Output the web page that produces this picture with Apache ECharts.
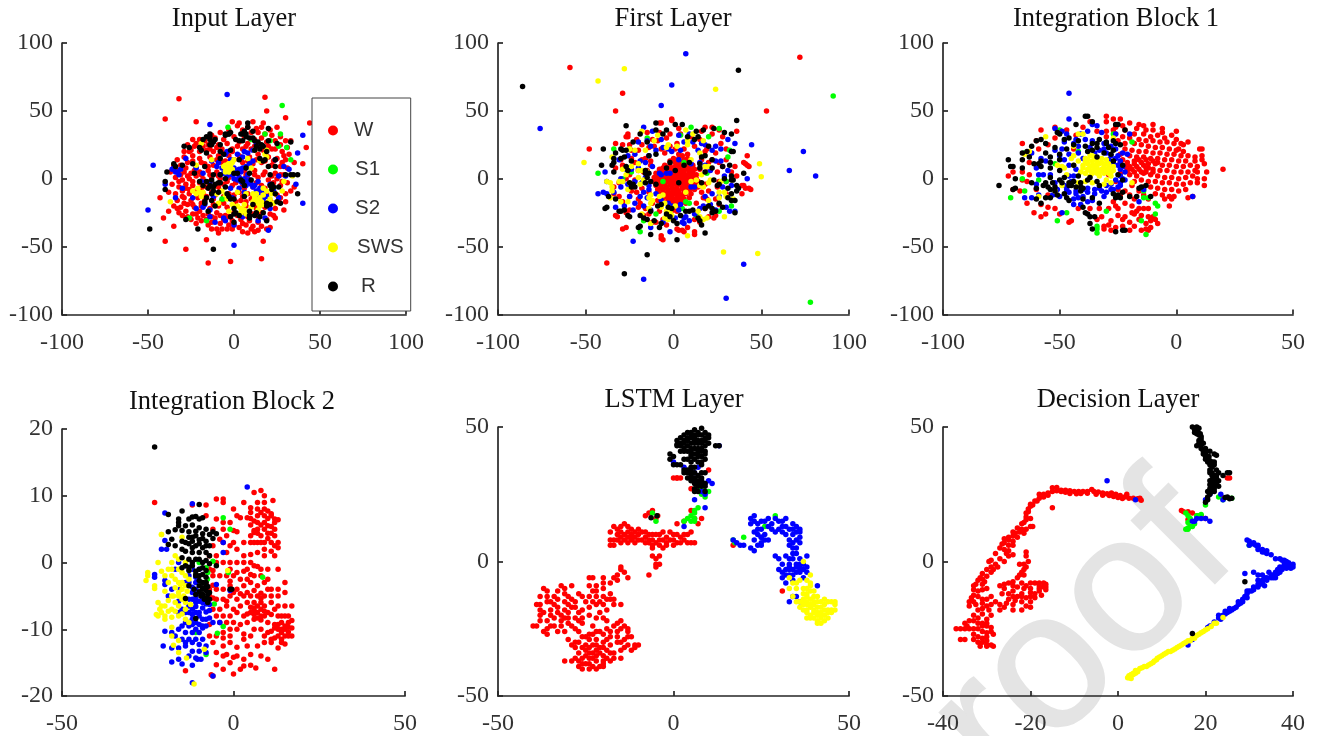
<!DOCTYPE html>
<html><head><meta charset="utf-8"><style>html,body{margin:0;padding:0;background:#fff}#c{width:1317px;height:736px}</style>
<script src="https://cdn.jsdelivr.net/npm/echarts@6/dist/echarts.min.js"></script></head><body><div id="c"></div>
<script>
// Flat x,y lists
const classNames=['W','S1','S2','SWS','R'];
const classColors=['#ff0000','#00ff00','#0000ff','#ffff00','#000000'];
const titles=['Input Layer','First Layer','Integration Block 1','Integration Block 2','LSTM Layer','Decision Layer'];

const input_W=[-32,59,18,60,19,50,30,45,-40,44,-22,42,42,23,40,11,-43,-14,-41,-29,-35,-35,-40,-46,-28,-52,-16,-45,-15,-62,-2,-61,16,-59,17,-46,44,41,
-1,42,3,41,11,42,17,41,2,39,8,38,13,37,16,38,21,36,25,38,-8,34,-3,36,5,36,10,34,14,34,18,33,22,32,27,31,-13,32,-20,29,-24,29,-17,28,-11,30,-6,29,0,31,6,31,12,29,16,30,24,28,30,28,33,28,
-27,25,-23,24,-15,25,-9,25,-4,26,3,27,8,26,15,25,19,27,27,25,31,23,-29,20,-25,21,-20,20,-16,21,-12,20,-7,22,-1,22,5,22,10,22,17,21,22,22,28,20,32,18,
-33,14,-29,16,-24,17,-20,15,-14,16,-9,17,-3,17,3,17,9,16,14,18,20,16,25,15,30,14,35,12,-35,10,-31,10,-27,12,-22,9,-17,11,-12,10,-7,12,-2,11,5,12,11,11,16,12,22,10,27,9,31,8,
-37,5,-33,6,-29,5,-25,4,-20,5,-15,6,-10,5,-5,6,0,7,6,6,12,6,18,5,24,4,29,3,-34,1,-30,-1,-26,0,-22,2,-18,0,-13,1,-8,0,-3,1,3,1,8,0,14,1,20,-1,25,0,31,-3,35,-6,
-36,-4,-32,-6,-28,-4,-24,-5,-20,-3,-16,-6,-11,-5,-6,-4,-1,-5,5,-4,11,-6,16,-5,22,-6,27,-5,33,-9,30,-11,-38,-10,-34,-11,-30,-9,-26,-11,-22,-9,-18,-11,-13,-10,-8,-9,-3,-11,3,-10,8,-11,14,-10,19,-11,25,-12,
-33,-16,-29,-14,-25,-16,-21,-14,-17,-16,-12,-15,-7,-16,-2,-14,4,-16,10,-15,15,-17,21,-16,26,-17,30,-17,-35,-20,-31,-21,-27,-19,-23,-21,-19,-20,-14,-22,-9,-20,-4,-21,1,-20,7,-20,13,-22,18,-21,24,-22,29,-23,
-38,-24,-32,-25,-28,-24,-24,-26,-20,-24,-15,-26,-10,-25,-5,-27,0,-25,5,-27,11,-26,16,-25,23,-27,-25,-30,-21,-29,-16,-30,-11,-29,-6,-30,-1,-31,4,-30,9,-31,14,-32,19,-30,24,-29,
-22,-33,-15,-34,-10,-37,-13,-37,-7,-37,-4,-37,-1,-37,3,-36,7,-34,8,-40,12,-39,16,-35,19,-37,
-26,20,-22,26,-18,24,-14,22,-10,23,-5,19,-1,20,2,24,7,24,12,24,16,23,20,24,24,22,29,17,-28,8,-24,13,-19,12,-15,9,-10,14,-5,13,0,14,4,15,8,13,13,14,18,13,23,13,28,12,-31,3,-27,2,-23,6,-19,3,-14,3,-9,2,-4,4,2,4,7,3,12,3,17,3,22,2,27,3,-32,-2,-28,-7,-24,-2,-19,-7,-14,-2,-9,-6,-4,-2,1,-3,6,-7,13,-3,18,-7,23,-3,28,-2,-30,-13,-26,-8,-21,-12,-16,-13,-11,-12,-6,-13,0,-12,5,-13,11,-13,17,-13,23,-9,27,-14,-33,-22,-29,-18,-24,-19,-19,-18,-12,-19,-6,-18,1,-17,7,-17,12,-19,18,-18,23,-18,-30,-27,-27,-28,-22,-26,-18,-27,-13,-28,-8,-27,-3,-28,2,-27,8,-28,14,-28,21,-26,-19,-31,-13,-32,-3,-34,5,-33,11,-35,-8,-33,0,-34,10,-37,14,-38,21,-36,-9,-40,5,-39];
const input_S1=[28,54,-3.5,38,18,33,27,33,30.6,23,26,24,33,14,-16,-31,-26,-29,-6.5,-15,21,28,10,29,-7,-15,23,-7];
const input_S2=[-4,62,-47,10,-50,-23,0,-49,40,-18,40,32,37,19,36,-4,-14,40,20,-38,-40,-4,-34,-14,-36,7,-31,7,-28,15,-33,5,-30,-7,-24,-14,-22,-22,-22,8,-18,-21,-14,-28,-11,-32,-6,-29,-5,-31,0,-34,5,-28,14,-31,18,-29,21,-22,26,-14,30,2,26,2,32,7,29,9,14,-2,11,-6,9,-3,8,3,7,-5,6,0,3,1,4,5,1,4,0,8,-2,-7,3,-7,6,-10,13,-9,15,-7,14,-12,17,-10,-7,8,-9,12,-14,-3,-4,2,-12,-13,-5,18,6,20,13,26,-4,20,11,21,-1,-14,-2,14,21,-4,24,14,-17,-19,-14,-23,
-35,8,-34,5,-32,3,-8,3,-6,4,0,0,2,-1,4,-2,5,-3,7,-2,9,-1,10,-4,12,-5,-1,3,1,6,3,7,5,8,7,9,9,11,11,13,2,18,5,16,8,19,-13,13,-10,9,-18,4,-19,-2,23,-9,19,-13,17,-15,16,-18,14,-9];
const input_SWS=[-37,-17,-21,-7,-20,-10,-18,-10,-22,10,-19,26,-13,14,-12,-6,-10,-11,-9,-18,-7,-9,-6,9,-4,8,-3,11,-4,10,-2,10,-1,7,0,14,2,-10,6,-19,-3,-24,-1,-19,4,-25,7,-11,8,15,10,8,11,-11,12,-13,13,-16,14,-18,15,-14,16,-17,14,-23,17,-12,19,-9,21,-15,23,-18,18,18,19,16,19,21,12,21,15,13,24,-11,28,-9,29,-2,34,2,2,-20,
-24,-9,-22,-11,-19,-13,-5,-12,-4,-15,-3,11,-5,8,-2,7,-3,5,-5,5,12,-15,13,-11,15,-20,17,-19,11,-17,10,-21,6,-23,7,-26,4,-22,-5,10,-3,6,-1,12,17,-7,20,-17,22,-11];
const input_R=[-49,-37,-12,-52,-21,-37,-28,-30,-39,5,-40,-2,-40,-8,-29,24,-26,23,-20,23,8,41,20,37,33,27,37,-11,37,3,34.5,3,33,3,30,3,-35,11,-34,9,-30,10,-24,11,-17,9,-14,29,-14,33,-16,31,-18,29,-19,21,-16,19,-14,25,-11,29,-8,20,-8,25,-5,33,-3,33,1,29,4,33,5,28,8,38,7,31,11,30,12,21,12,28,13,24,15,15,17,24,18,14,20,28,24,9,24,14,25,26,26,-6,27,-18,-9,-3,-12,-6,-9,-10,-13,-11,-15,-7,-18,-5,-17,-18,-15,-24,-13,-16,-11,-20,-8,-3,-8,3,-5,-6,-4,-11,-3,-13,-2,-28,0,-32,0,-22,3,-27,2,4,4,-1,6,-5,7,8,9,4,6,-13,9,-24,9,-27,11,-19,13,-25,15,-28,19,-20,19,-31,21,-5,23,-6,-12,3,-13,-1,-16,-2,-20,-2,-5,0,0,4,3,14,5,-2,10,-1,-11,-4,-23,4,
-5,32,-3,33,-2,34,-14,31,-13,25,-12,27,-8,15,-6,18,-2,21,3,28,5,33,6,35,7,33,9,30,11,35,14,27,16,25,15,22,19,20,17,13,20,9,21,3,22,-4,22,-8,24,-11,25,-17,21,-19,19,-18,17,-25,12,-27,9,-29,0,-26,1,-25,-2,-15,0,-15,-12,-9,-14,-5,-16,-14,-17,-17];

const first_W=[3,18,5,17,0,15,3,15,6,14,8,15,-2,13,1,12,4,12,7,12,9,12,-5,10,-2,10,1,9,3,10,6,9,9,9,11,10,-8,7,-5,7,-2,6,1,7,4,6,7,7,10,6,12,7,-10,4,-7,4,-4,3,-1,4,2,3,5,4,8,3,11,4,13,3,-11,1,-8,1,-5,0,-2,1,1,0,4,1,7,0,10,1,13,0,-12,-2,-9,-2,-6,-3,-3,-2,0,-3,3,-2,6,-3,9,-2,12,-3,14,-2,-10,-5,-7,-5,-4,-6,-1,-5,2,-6,5,-5,8,-6,11,-5,14,-6,-9,-8,-6,-8,-3,-9,0,-8,3,-9,6,-8,9,-9,12,-8,-8,-11,-5,-11,-2,-12,1,-11,4,-12,7,-11,10,-11,-6,-14,-3,-14,0,-15,3,-14,6,-15,9,-14,-4,-17,-1,-17,2,-18,5,-17,7,-18,-2,-20,1,-20,4,-21,0,-23,2,-24,
-6,8,-3,8,0,8,2,8,5,8,8,8,-8,5,-6,5,-3,5,0,5,3,5,6,5,9,5,-9,2,-6,2,-3,2,0,2,3,2,6,2,9,2,12,2,-10,-1,-7,-1,-4,-1,-1,-1,2,-1,5,-1,8,-1,11,-1,-8,-4,-5,-4,-2,-4,1,-4,4,-4,7,-4,10,-4,13,-4,-7,-7,-4,-7,-1,-7,2,-8,5,-7,8,-7,11,-7,-6,-10,-3,-10,0,-10,3,-11,6,-10,-4,-13,-1,-13,2,-13,5,-13,-2,-16,1,-16,4,-16,
-38,-62,-59,82,-29,63,-33,50,72,89.5,53,50,-48,22,-8,41,-7,41,-1,43,-1,44,3,37,18,38,22,38,26,36,-26,31,-27,31,-12,29,-9,28,-4,30,2,26,15,29,19,22,27,26,30,22,36,35,-33,26,-29,25,-25,25,-20,21,-14,23,-7,22,-2,24,6,22,-30,14,-24,15,-18,14,-13,13,16,14,22,14,28,9,35,9,42,17,40,12,41,11,42,10,43,9,-33,8,-29,8,-25,3,-20,6,-17,5,19,5,25,5,33,5,36,2,-34,-6,-31,-3,-22,-1,-18,-7,18,-4,25,-6,30,-2,39,-5,40,-5,41,-7,43,-7,44,-8,39,-11,-34,-11,-31,-13,-25,-13,-20,-15,17,-14,24,-15,30,-11,-33,-27,-32,-28,-25,-23,-20,-21,-16,-22,-8,-24,-3,-26,13,-25,18,-22,24,-27,23,-29,-29,-37,-27,-36,-12,-32,-6,-30,12,-30,2,-37,3,-38,5,-38,6,-39,12,-39,12,-41,-7,-42,-7,-44,-6,-45,-14,-26,
-26,33,-21,29,-15,34,-8,34,-2,33,4,33,10,31,16,35,22,33,28,31,-24,21,-18,25,-11,24,-5,19,1,22,8,18,12,24,18,20,24,19,-29,10,-22,12,-16,15,-13,10,15,7,20,12,26,12,30,14,-27,0,-21,-10,-15,6,-14,-10,16,-10,20,-9,26,-2,-29,-17,-24,-9,-19,-18,-12,-18,-9,-16,13,-18,19,-15,26,-19,-27,-25,-17,-27,-10,-32,-4,-34,8,-36,15,-32,20,-28];
const first_S1=[91,61,-43,4,78,-91,10,38,26,37,20,31,4,32,-15,30,-34,22,-25,22,-26,8,-29,0,-6,-2,-24,5,32,21,31,16,-19,-39,-17,-31,-10,-26,7,-17,9,-18,26,-24,13,-27,30,-2,33,-20,5,-22,19,4,6,12];
const first_S2=[-76,37,7,92,-1,69,-7,54,44.5,25,74,20,66,6,81,2,40,-63,30,-88,-17,-74,-23,-46,-17,38,-15,28,-13,24,-10,21,-6,23,-3,22,-1,20,4,21,6,27,9,33,16,26,22,21,24,24,31,29,35,26,-31,14,-26,17,-24,7,-27,7,-30,0,-29,-2,-38,-2,-39,5,-43,-11,-40,-10,-38,-11,-34,-10,-30,-6,-22,-2,-18,-3,-16,12,-14,17,-12,9,-8,4,-7,3,-4,4,-2,4,3,14,10,11,15,12,24,13,27,13,31,6,33,-5,42,0,-33,-21,-28,-20,-22,-18,-23,-23,-17,-10,-14,-8,-15,-14,-10,-11,-3,-18,4,-19,3,-23,7,-28,6,-33,6,-29,12,-26,17,-20,21,-19,24,-23,26,-13,30,-21,32,-24,35,-24,-2,-39,-6,-32,-13,-36,5,-32,10,-6,12,-6,
-20,27,-12,35,-7,29,3,32,11,27,18,25,27,22,-22,18,-19,13,-20,8,-16,1,-14,-5,-26,-4,-25,-13,-19,-13,-17,-20,-13,-23,-7,-16,-1,-20,1,-29,9,-31,15,-22,18,-13,22,-11,28,-6,29,2,21,6,18,10,14,21];
const first_SWS=[-28,81,-43,72,24,66,49,11,50,1.5,-51,12,28.5,-54,48,-55,8,-42,-18,35,-9,32,-3,25,7,36,8,28,11,33,15,19,17,28,-35,16,-22,21,-29,-2,-20,11,-18,6,-20,1,-38,-2,-36,-3,-35,-6,-35,-9,-31,-2,-19,-4,-25,-3,-26,-8,-17,-1,-26,-17,-36,-14,-30,-17,-14,-14,-13,-18,-7,-21,-2,-25,-1,-27,-5,-29,-3,-30,-13,-33,-18,-26,-14,-22,-13,-12,-4,-24,-8,-13,1,-20,7,-10,-6,-12,13,-1,15,-5,17,-6,18,9,20,9,21,-1,27,-2,29,-10,30,-13,34,-15,19,-29,29,-28,-20,6,16,3,10,-2,20,-3,15,-28,14,
-24,-2,-22,-7,-20,-5,-18,-12,-16,-16,-3,-27,3,-29,7,-24,9,-25,22,-4,23,2,24,8,25,-11,28,-16,21,10,14,-15,5,26,-10,26,-14,20,-16,17,-30,5];
const first_R=[-86,68,37,80,36,43,-38,-21,-40,22,-41,10,-33,19,-27,39,-19,33,-10,41,-10,36,-4,36,1,40,5,40,17,36,23,37,29,34,33,33,33,20,34,20,20,24,12,29,14,31,-27,21,-29,21,-30,22,-34,15,-34,12,-35,10,-34,5,-30,15,-24,13,-23,27,-27,9,-26,6,-23,-4,-22,-6,-24,-6,-16,6,-16,4,-15,1,-14,4,-13,-2,-10,-4,-10,18,-4,8,1,6,3,-3,6,10,9,12,15,8,15,11,16,16,18,17,22,14,23,-1,25,-5,28,9,32,10,33,2,33,-1,34,-1,37,-7,40,4,33,-11,35,-16,35,-25,31,-14,28,-21,-30,-24,-28,-23,-26,-27,-19,-27,-19,-35,-20,-36,-15,-30,-13,-24,-11,-31,-8,-36,-4,-26,-9,-20,-7,-19,-2,-28,-3,-21,-1,-22,2,-33,4,-27,7,-24,9,-24,11,-23,14,-29,16,-34,18,-22,18,-40,22,-25,24,-24,33,-16,36,-9,2,-45,-15,-56,-28,-70,-13,-41,
-39,-22,-37,-13,-33,-15,-31,-24,-25,-28,-17,-29,-7,-33,0,-31,15,-31,20,-20,22,-22,26,-18,31,-7,36,-5,26,-4,29,0,16,-3,18,5,22,8,-2,12,8,31,13,35,-6,33,-15,27,-14,17,-28,16,-25,-3,-16,-3];

const block1_W=[20,7,-30,46,-27,44,-24,44,-16,40,-14,39,-10,40,-6,37,0,35,-30,42,-23,39,-20,41,-17,37,-13,36,-10,36,-6,34,-2,32,2,26,5,27,3,25,-27,36,-22,36,-18,33,-14,33,-11,31,-8,32,-5,30,0,29,1,22,-20,30,-16,29,-13,28,-10,28,-7,27,-4,27,-1,26,-25,28,-22,26,-18,26,-15,25,-12,24,-9,23,-6,23,-3,22,0,21,3,20,-22,22,-19,21,-16,20,-13,20,-10,19,-7,19,-4,18,-1,18,2,17,5,17,10,22,11,22,-20,17,-17,16,-14,16,-11,15,-8,15,-5,14,-2,14,1,13,4,13,8,16,8,13,11,17,11,14,-24,12,-21,12,-18,11,-15,12,-12,11,-9,11,-6,10,-3,10,0,9,3,9,6,10,9,9,12,11,-19,7,-16,7,-13,8,-10,7,-7,6,-4,6,-1,5,2,5,5,5,8,6,9,5,13,5,-20,3,-17,2,-14,4,-11,3,-8,2,-5,1,-2,1,1,0,4,1,7,2,9,0,12,0,-18,-2,-15,-1,-12,-2,-9,-2,-6,-3,-3,-3,0,-4,3,-4,6,-3,9,-3,12,-5,-14,-6,-11,-6,-8,-7,-5,-8,-2,-8,1,-9,4,-8,-9,-11,-6,-12,-3,-13,-1,-13,5,-14,7,-13,-2,-15,-5,-15,-3,-20,-20,-12,-18,-15,-22,-9,-24,-12,-22,-18,-19,-20,-16,-22,-12,-22,-10,-28,-26,-20,-29,-22,-25,-27,-22,-28,-18,-26,-15,-27,-12,-28,-9,-30,-8,-33,-20,-32,-16,-30,-13,-33,-11,-36,-31,-37,-28,-38,-26,-36,-23,-35,-15,-38,-13,-37,-12,-38,-34,-30,-32,-28,-29,-34,-31,-35,-61,-25,-58,-28,-56,-26,-50,-26,-46,-32,-45,-31,-52,-22,-55,-21,-58,-19,-64,-18,-67,-9,-72,2,-70,-8,-60,-8,-66,-1,-63,3,-66,5,-70,5,-66,26,-60,28,-58,36,-52,38,-55,25,-47,36,-43,32,-40,38,-37,42,-34,35,-30,35,-26,38,
-24,18,-23,14,-22,9,-24,4,-25,-8,-27,-17,-25,-22,-28,-31,-23,-30,-19,-25,-17,-24,-14,-22,-11,-31,-18,-35,-20,-38,-33,-22,-37,-22,-42,-22,-55,-12,-64,-2,-63,12,-59,22,-52,30,-44,22,-30,31,-26,33,-23,31,-29,3,-26,-2,-19,-5,-16,-9,-14,-12,-12,-15,
-20,9,-17,9,-14,10,-12,8,-18,5,-15,5,-13,5,-10,5,-16,14,-13,14,-10,13,-8,12,-18,13,-21,6];
const block1_S1=[-65,19,-66,0,-65,-9,-71,-14,-59,-1,-51,-31,-47,-25,-34,-35,-34,-37,-34,-40,-30,-24,-14,-14,-12,-14,-9,-18,-8,-20,-9,-26,-15,-31,-13,-41,-19,27,-27,33,-50,36,-42,20,-52,11,-14,-9];
const block1_S2=[-46,63,-46,44,-52,37,-49,35,-41,33,-38,35,-36,40,-34,39,-32,34,-26,33,-20,33,-39,29,-36,28,-31,26,-28,24,-26,22,-23,19,-21,18,-48,27,-44,26,-42,24,-49,22,-50,17,-46,18,-42,19,-40,15,-37,23,-33,21,-30,19,-28,17,-26,15,-25,10,-24,7,-22,5,-24,2,-22,-1,-24,-3,-25,-6,-28,-4,-30,-5,-32,-9,-35,-11,-38,-10,-40,-13,-42,-14,-43,-11,-46,-10,-47,-8,-51,-8,-52,-3,-48,-5,-45,-2,-58,15,-62,19,-60,8,-59,3,-54,3,-60,-4,-62,-14,-59,-12,-65,-14,-49,-25,-41,-19,-38,-17,-31,-13,-25,-13,-16,-17,-14,-8,7,-13,-44,-19,-57,3,-56,13,-43,7,-46,2,-30,-10,-27,-8,-36,-16,
-47,33,-43,29,-35,19,-31,22,-29,14,-27,12,-25,17,-24,13,-23,9,-23,0,-26,-1,-24,-5,-28,-8,-33,-7,-38,-7,-43,-9,-44,-15,-40,-8,-35,-8,-50,-13,-53,-12,-52,21,-48,14,-46,10,-44,2];
const block1_SWS=[-56,31,-51,10,-49,9,-48,8,-47,3,-49,-5,-45,15,-44,10,-44,17,-42,13,-41,5,-42,-3,-40,8,-39,13,-39,15,-38,11,-37,9,-37,17,-37,6,-36,13,-36,4,-35,16,-35,10,-34,8,-34,14,-33,11,-33,5,-33,2,-32,7,-32,12,-31,9,-31,4,-30,11,-30,6,-29,8,-28,5,-28,2,-27,9,-28,-3,-31,-4,-36,-3,-39,-2,-41,-6,-30,-1,-44,24,-42,33,-40,33,-63,20,-65,18,-59,-13,-27,30,-19,-3,-52,-9,
-40,10,-38,14,-38,7,-36,10,-36,17,-35,7,-34,4,-34,11,-32,15,-30,14,-29,11,-29,4,-27,6,-37,2,-39,4];
const block1_R=[-76,-5,-72,14,-71,9,-70,9,-70,-8,-69,-7,-69,0,-66,14,-66,19,-64,20,-62,24,-60,28,-58,29,-66,8,-62,-3,-60,-7,-60,-15,-56,-14,-58,-18,-54,-14,-59,11,-58,9,-58,13,-56,-3,-54,16,-54,12,-54,8,-54,1,-56,19,-56,26,-54,-8,-52,-6,-52,-9,-51,-12,-50,18,-50,14,-50,6,-50,-1,-49,-3,-48,-11,-47,-14,-46,-16,-46,-3,-44,25,-44,10,-43,-6,-42,2,-41,-3,-40,-15,-40,-7,-40,-21,-39,-25,-38,-26,-37,-28,-37,-33,-36,-37,-35,-28,-38,20,-36,21,-34,26,-34,16,-33,29,-31,19,-30,27,-29,23,-27,21,-27,13,-26,26,-25,40,-26,40,-22,36,-39,46,-38,46,-36,42,-43,40,-51,34,-50,33,-46,30,-47,22,-37,1,-34,-2,-33,-5,-27,-11,-26,-14,-24,-14,-25,-12,-23,-10,-20,-13,-17,-13,-13,-5,-16,-7,-15,-6,-11,-13,-26,-39,-23,-38,-22,-38,-45,-5,-41,-9,-23,-1,-25,3,-23,10,
-55,-6,-53,-3,-57,-5,-48,1,-46,-5,-44,-2,-41,-6,-38,-1,-36,-14,-33,-18,-52,23,-48,29,-42,28,-39,24,-36,26,-34,23,-30,26,-24,25,-27,28,-28,18,-63,16,-61,11];

const block2_W=[-23,9,-12,8.6,-8,8.6,-5,9.5,-3,9.5,-3,9,0,8,3,9,8,10.8,9,10,6,10.5,7,9,9,9,11.5,9.3,5,8.2,7,8,9,8,11,7.3,5,7.5,7,7,9,7,11,7,12,6.5,13,6.4,5,6.6,7,6,9,6,10,5.5,12,6,5,5.6,7,5,9,5,11,5.4,12,5,6,4.5,8,4,10,4.4,12,4,5,4,7,3,9,3,11,3,13,3,6,3,9,2,13,2.2,7,1.5,11,1.7,5,1.2,9,1,12,1,-8,7,-5,6.5,-3,6,-1,6,1,7,2,6.7,4,6.7,-6,5,-3,5,0,4.8,1,4.6,3,3,5,3,-3,3,0,3,-6,2.5,-7,1,-5,1,-2,1.5,1,2,3,1,-7,-1,-5,0,-3,0,-1,0,1,0,3,0,5,0,-1,-1,1,-1.5,4,-1,6,-0.5,8,-1,10,-1,13,-1,-8,-3,-6,-2,-4,-2,-2,-2,0,-2,2,-2.5,4,-2.5,6,-2,8,-2,10,-2.5,-7,-4,-5,-4,-3,-4,-1,-3.5,1,-4,3,-3.5,5,-3,7,-3.5,9,-3,11,-4,13,-4,15,-3,-7,-5,-5,-5.5,-3,-5.5,-1,-5,1,-5.5,3,-5,5,-5,7,-5,9,-5,11,-5,13,-5,15,-4.5,-6,-7,-4,-7,-2,-6.5,0,-7,2,-6.5,4,-6,6,-6,7,-6.5,9,-6.5,11,-6,13,-6.5,15,-6.5,17,-6.5,-5,-8,-3,-8,-1,-8,1,-7.5,3,-8,5,-7.5,6,-7.2,7,-7.5,8,-7,9,-8,11,-7.8,13,-8,15,-8,17,-8.7,-4,-9,-2,-9,0,-9,2,-9.3,4,-9,6,-8.5,8,-8.6,10,-9,12,-9.3,14,-9,16,-9,17,-9.8,-7,-9.3,-3,-10.5,-1,-10,1,-10,3,-10.7,6,-10,8,-10,10,-10.5,11,-10.3,13,-10,14,-10.5,15,-10,16,-10.4,-7,-11,-5,-11,-3,-11.3,-1,-11,3,-11.5,5,-11,9,-11,11,-11.5,12,-11.3,14,-11.5,16,-11,-6,-12,-3,-12.5,-1,-12,1,-12.7,4,-12.5,7,-12.5,9,-12,11,-12,13,-12.8,15,-12.2,-5,-13.5,-3,-14,-2,-13.8,0,-14.2,1,-14,3,-14.5,5,-13.8,8,-14,10,-14.5,-5,-15.3,-3,-16,-1,-15,0,-16.7,2,-16,3,-15.5,5,-15.4,6.5,-15.8,12,-16,-14,-16.2,-6.5,-16.8,-6,-17,
6,6.2,8,5.6,10,6.6,8,7.5,10,7.7,6,4.8,8,3,10,3.6,12,2.5,7,4.4,11,4.4,8,-6,6,-7.8,7,-8.3,8,-8,5,-6.7,4,-7.7,6,-6.8,8,-5.4,9,-7.3,10,-7.5,12,-7,14,-10,15,-11,13,-11,14,-8,16,-8,12,-9.8,13,-9.3,15,-9.5,16,-9.7,17,-11,14,-12,-2,-5.8,0,-4.5,2,-4.7,4,-4.5,6,-4.2,8,-4.6,10,-4,-1,-2.8,3,-1.3,5,-1.8,7,-0.6,-6,-5.3,-6,-3.4,-6,-1.2,-4,3.5,-2,4,-1,2.5];
const block2_S1=[-3,6.7,-1,5,-6,0.2,-8,-0.8,-7.6,-2.5,-5.6,-6.2,-3,-9.6,-4.7,-10.6,-11,-10.5,-8,-13.8,8.5,-2.2,-10,0,-7.5,-1.5,-1.5,-1.5];
const block2_S2=[4,11.3,-12,8.8,-20,7.4,-21,2,-19.5,2,-20,3.3,-23,-1.8,-23,-2.2,-20,-2.7,-20,-3.3,-18,-4,-19,-5,-16,-5.8,-16,-7.5,-14,-9,-13,-7.5,-15,-7,-15.5,-4,-17,-1,-20,-10.3,-18,-10.5,-15,-9.5,-13,-9.5,-12,-10.5,-10,-10.5,-8,-9.5,-6,-9,-4,-9,-17,-11,-15,-11.5,-13,-11.5,-11,-11.5,-9,-11.5,-8,-12.5,-20.5,-12.5,-18,-12.8,-16,-12.8,-14,-12.5,-12,-13.3,-10,-13.3,-8,-13.5,-16,-14.5,-18,-14.9,-15,-15.2,-12,-15.4,-10.5,-14.5,-9.5,-14.5,-6,-17,-12,-18,-11,-10,-10,-9.3,-12,-8.5,-8,-8.5,-10,-7.5,-12,-7,-14,-7.5,-8,-7.4,-9,-6.8,-11,-6,-13,-5.5,-7,-6.3,-9,-5.3,-10,-4.7,-12,-4.5,-13,-3,-11,-3,-10,-1,-12,-1,-14,-0.5,-16,0,-3,3,-3,1.5,-1,-4.2,-5,-3.3,-13,-2,-9,-8.5,-11,-7.5,
-13,-9,-11,-9,-9,-9.5,-7,-8.3,-10,-8,-12,-7.8,-13,-6.5,-11,-6.6,-9,-6,-8,-6.2,-7,-7.2,-12,-5.5,-11,-5.3,-10,-5.8,-12,-3.7,-11,-4,-14,-3,-13,-1,-11,-2.2,-9,-9.8,-12,-9.3,-14,-10.5,-10,-12.3,-12,-12,-13,-14,-11,-14.3,-16,-10,-14,-12];
const block2_SWS=[-21,4.2,-15,3.8,-17,1,-18,0,-16,0.5,-14,0,-13,-1,-22,0,-25,-1.5,-25,-2,-25.5,-2.7,-23,-3.5,-23,-3.9,-21,-1.3,-19,-1,-18,-2,-17,-2.5,-15,-1.5,-19,-3,-17,-3.8,-15,-3,-14,-2,-13,-2.5,-20,-4.3,-17.5,-5,-16,-4.5,-15,-4,-13.5,-4.3,-15,-5.5,-17,-6,-14,-6,-22,-6,-21,-6.5,-19,-5.7,-17,-7.3,-14,-7,-12.5,-6.3,-21,-7.5,-22.5,-7.8,-22,-8,-20,-8,-18,-8.2,-16,-8,-14,-8.5,-20,-8.5,-13,-9,-18,-9.7,-18,-11,-16,-11.7,-17.5,-12.4,-16,-13.5,-13.7,-14.3,-8.5,-13,-1.7,-1.2,-11.5,-18.2,-21,4.2,
-16,-1,-18,-1,-20,-2,-16,-3,-14,-3.5,-16,-5,-18,-5,-16,-6.5,-15,-7.7,-18,-7,-20,-6.5,-21.5,-7,-19,-7.3,-15.5,-3.3,-14.5,-5];
const block2_R=[-23,17.3,-19,7.2,-15,7.7,-10,8.7,-16,6.5,-16,6,-13,6.5,-12,6.8,-11,6.9,-10,6.5,-9,6.7,-16,5.5,-14,5.5,-12,5.6,-10,5.2,-8,5,-6,4.6,-19,4.6,-17,4.9,-15,4.8,-13,4.6,-11,4.7,-9,4.3,-7,4.2,-5,4.3,-18,3.5,-19,2.7,-15,3.2,-13,3.8,-12,3.8,-10,3.4,-8,3.2,-6,3.6,-15,2,-13,2.8,-11,2.5,-9,2.2,-7,2.5,-17,2.5,-14,1.7,-12,1.5,-10,1.5,-8,1.5,-7,1,-15,0.7,-13,0.5,-11,0.5,-9,0,-7,-0.2,-14,-0.5,-13,-0.7,-12,-0.5,-10,-1,-8,-1.2,-5,-0.5,-15,-0.8,-13,-1.2,-11,-1.8,-9,-1.8,-11,-2,-10,-2.7,-9,-3,-8,-3,-7.5,-3.6,-13,-3.5,-11.5,-4,-10,-3.5,-9,-4,-8,-4.2,-7,-4.5,-11,-4.8,-9,-4.8,-8,-5.3,-7,-5.5,-14,-5.4,-7.5,-6,-1,-4,-0.5,-4,-11,-8.4,
-12,2.2,-10,2.8,-8,2.5,-12,0,-10,0.5,-8,0.3,-11,-1.3,-9,-0.8,-10,-2,-8,-2.2,-9,-3.8,-8,-3.6,-10,-4.4,-8.5,-5.5,-7.5,-4.8,-9.5,-5,-12,3.2,-9,3.6,-14,3,-11,4];

const lstm_W=[-39,-24,-40,-24,-38,-13,-37,-10,-36,-11,-38,-16,-39,-16,-36,-15,-34,-13,-33,-11,-32,-9,-31,-10,-29,-9,-37,-19,-38,-20,-35,-18,-33,-17,-31,-15,-29,-14,-27,-12,-26,-13,-25,-15,-28,-17,-38,-22,-36,-22,-34,-21,-32,-20,-30,-19,-28,-21,-26,-18,-24,-17,-23,-15,-36,-25,-34,-24,-32,-24,-30,-23,-28,-25,-26,-23,-37,-26,-36,-27,-33,-26,-31,-26,-35,-20,-33,-14,-31,-18,-29,-24,-27,-26,-30,-13,-28,-15,-26,-21,-24,-20,-38,-18,-36,-13,-34,-16,-32,-22,-30,-21,-27,-19,
-30,-29,-29,-31,-28,-30,-28,-32,-26,-28,-27,-34,-25,-31,-25,-33,-24,-27,-23,-24,-24,-29,-23,-31,-23,-34,-22,-29,-22,-26,-21,-32,-21,-34,-20,-27,-20,-30,-19,-25,-19,-33,-18,-28,-18,-31,-17,-34,-16,-26,-16,-30,-15,-33,-14,-32,-14,-29,-13,-25,-13,-31,-12,-28,-12,-33,-11,-31,-11,-32,-10,-31,-14,-24,-29,-37,-31,-37,-28,-36,-27,-37,-26,-36,-25,-38,-24,-36,-23,-39,-22,-37,-21,-39,-20,-38,-19,-36,-18,-37,-17,-36,-15,-36,-26,-40,-24,-40,-22,-40,-20,-39,-27,-39,-20,-35,-18,-34,-24,-38,-25,-35,-23,-36,
-24,-6,-23,-6,-20,-6,-17,-6,-16,-5,-15,-3,-15,-2,-14,-4,-13,-6,-16,-7,-18,-8,-20,-8,-22,-9,-20,-10,-22,-11,-24,-9,-24,-13,-22,-13,-20,-13,-18,-12,-18,-14,-20,-16,-22,-16,-19,-18,-21,-19,-19,-14,-17,-14,-17,-16,-15,-16,-20,-21,-22,-21,-15,-22,-15,-25,-13,-26,-16,-23,
-18,11,-17,13,-16,12,-15,13,-14,14,-13,13,-12,12,-18,8,-18,6,-17,8,-17,6,-16,10,-15,9,-14,10,-13,9,-13,11,-12,9,-11,11,-11,9,-10,10,-10,8,-9,8,-9,11,-8,7,-8,9,-7,10,-7,7,-6,8,-6,6,-5,10,-5,7,-4,8,-4,6,-3,11,-3,8,-3,5,-2,9,-2,6,-1,8,-1,11,0,8,1,10,1,7,2,9,3,10,4,10,5,11,4,7,5,7,6,7,-6,5,-6,2,-5,1,-4,2,-5,-1,-5,-2,-4,-1,-7,-5,
-7,18,-6,19,-8,17,-5,16,1,14,3,15,6,16,7,14,5,19,8,16,1,31,0,31,1,31,2,31,5,27,10,34,31,-11,17,6,-4.5,17,
-16,8,-15,7,-15,11,-14,8,-13,7,-12,10,-12,8,-11,7,-10,12,-8,11,-7,8,-6,10,-4,10,-2,7,0,10,0,6,2,7,3,8,
-33,-19,-31,-21,-30,-16,-35,-24,-29,-17,-27,-22,-31,-12,-35,-15,-26,-32,-24,-32,-22,-31,-22,-33,-20,-32,-19,-29,-18,-26,-16,-28,-15,-30,-13,-28,-26,-38,-24,-34,-22,-35,-20,-37,-25,-28,-27,-30,-23,-27,-21,-26,-19,-22,-17,-24,-21,-15,-23,-11];
const lstm_S1=[-6,18,-5,15,4,16,3,15,5,17,6,18,6,16,5,15,7,20,6,19,6,15,7,28,8,27,9,26,8,25,9,24,10,26,17,8,20,9,26,13,29,17,17.5,7];
const lstm_S2=[13,43,0,37,3,35,7,35,6,33,10,30,11,29,9,29,8,26,9,25,6,23,9,20,3,13,17,8,18,7,19,6,20,6,22,5,24,6,23,4,25,6,23,8,25,7,23,11,25,9,22,14,22,16,23,17,24,14,25,15,26,15,27,13,25,12,26,10,25,9,27,8,29,11,28,14,29,16,31,15,32,16,30,12,32,13,34,14,35,13,36,12,32,10,34,10,35,8,36,9,36,7,34,7,33,6,35,5,32,2,34,3,36,1,38,2,36,-1,35,-2,33,-3,33,-1,31,-1,32,-3,30,-3,32,-5,33,-5,35,-4,37,-3,38,-2,38,-4,36,-4,30,1,29,2,34,-7,32,-8,37,-6,41,-9,34,-13,35,-13,36,-15,33,-15,
24,12,24,10,26,8,23,15,27,16,28,12,30,15,31,13,33,12,34,12,35,11,33,8,36,11,31,11,34,5,35,3,33,1,34,1,35,-1,34,-3,36,-2,31,-4,34,-5,36,-3,33,-2,37,-1,31,-6];
const lstm_SWS=[37,0,39,-5,33,-6,34,-8,36,-7,35,-8,38,-7,39,-8,33,-10,35,-10,37,-10,38,-10,39,-9,34,-13,37,-12,38,-12,40,-13,35,-15,37,-14,39,-14,41,-13,43,-14,45,-15,46,-15,46,-16,37,-16,39,-16,41,-15,43,-16,45,-18,38,-18,40,-18,42,-17,44,-18,46,-18,39,-20,41,-20,43,-20,45,-19,40,-21,42,-21,44,-21,41,-22,42,-23,43,-22,38,-21,37,-18,36,-17,40,-16,42,-19,
38,-13,39,-11,40,-11,38,-15,40,-15,36,-15,37,-15,39,-17,41,-17,38,-16,42,-15,44,-15,40,-19,42,-20,44,-19,38,-19,39,-21,41,-19,43,-18,41,-23];
const lstm_R=[-6.4,16.3,-4.7,17,0,39,-1,40,-1,38,0,36,1,36,1,43,1,45,2,43,2,46,3,44,3,47,4,45,4,48,5,48,6,49,7,47,8,49.5,8,47,9,48,10,47,10,46,9,45,8,44,6,45,5,44,3,42,2,41,4,41,5,40,6,42,7,42,8,42,9,41,9,43,8,39,7,39,5,39,4,38,6,38,7,37,8,37,9,40,9,38,2,36,3,34,4,34,5,35,4,33,6,33,5,32,4,31,5,30,6,31,7,30,8,31,9,33,6,29,7,28,8,29,9,29,6,27,6,26,7,26,8,30,9,28,12,43,13,43,9,26,1,43.5,3,38,
2,44,3,45,4,43,5,46,6,47,7,45,5,42,6,44,7,44,8,45,9,46,4,46,3,41,5,41,7,41,8,41,6,40,7,40,5,37,5,34,6,35,3,33,7,32,8,33,6,30,7,29,5,31,8,28,5,33,8,36,10,44,6,46,5,47,7,48];

const decision_W=[5.3,22.8,4.5,23.3,3.5,23.5,5,23.5,2.5,23.5,2,25,1.5,24,0.5,24.5,-0.5,25,-1.5,25.5,-2.5,25.2,-3.5,25.5,-4.5,25.8,-5.5,26,-6,26.8,-7,26,-8,26,-9,26,-10,26,-11,26.3,-12,26.5,-13,26.5,-14,27.5,-15,27.4,-14,26.3,-15,26,-16,25.5,-17,25,-18,25,-17,24,-18,23.5,-19,22.5,-20,21.3,-20,20.5,-20.5,19.5,-15,20,-20.5,18.5,-21,16.5,-20,16,-21,15.5,-21.5,14.5,-20,13,-19.5,13,-21,12,-22,12,-22.5,11,-23.5,10.5,-21.5,10.5,-23,9,-24,9.5,-25,8,-24,7.5,-26,7,-26.5,6.5,-25,6,-24,6,-26,4.5,-25,4,-25.5,3,-24,2.5,-25,2,-27,1,-26,0,-29.5,0,-28,-1,-29,-2,-27.5,-2,-28.5,-3,-30,-3,-31,-4.5,-30,-5.5,-31.5,-6,-32,-7,-30.5,-7.5,-32.5,-8.5,-31,-8.5,-33,-9,-31,-10.5,-30,-10,-32,-11,-33,-12.5,-32,-13,-33.5,-13.5,-33,-15,-31,-14,-30,-14,-29,-13,-31,-15.5,-30,-16.5,-32.5,-16,-31,-17.5,-29,-16,-29.5,-18,-31,-19.5,-32,-21,-30,-21.5,-31,-23,-32,-23,-33,-22,-34,-22,-35,-23,-34.5,-24,-36,-25,-37,-25,-35,-25,-33,-25,-31,-24,-30,-24,-29,-24.5,-29,-26,-30,-26.5,-28.5,-27,-30,-28,-31,-28.5,-33,-27,-32,-28,-35,-29,-36,-29,-30,-29.5,-31,-30,-31.5,-31.5,-30,-31,-29,-31,-28.5,-31.5,-30,-31.5,
-21,3.5,-21,2,-20.5,0,-21.5,-1,-21,-2,-21.5,-3,-22,-4,-22.5,-5,-21.5,-5,-22.5,-1,-25,-8,-26,-8.5,-27,-9,-24,-9,-26,-10,-23,-9.5,-24,-11,-22,-8,-21,-9,-20,-8,-19,-8,-18,-8,-17,-8,-16.5,-8.5,-17,-9.5,-18,-10,-20,-10,-21.5,-10,-16.5,-10.5,-18,-11,-19,-12,-20,-11.5,-22,-12,-17.5,-12.5,-19,-13.5,-21,-13.5,-23,-13,-25,-12,-26.5,-12,-25,-14,-23.5,-14.5,-22,-15,-20,-15,-24,-16,-25.5,-15.5,-27,-16,-26,-17,-27,-18,-24,-18,-22,-18,-20,-17,-21,-16.5,-28,-15,
-13,26,-12,25.7,-11,25.3,-9.5,25.2,-8.5,25.3,-7,25.4,-5,25,-3.5,24.6,-2,24.5,-1,24.2,0,23.8,1,23.4,-16,24.6,-18.5,22.5,-19.5,21,-21,18,-22,14,-23,12.5,-24,11,-25,9,-26,8.5,-27,5,-28,3,-29,0.5,-29,-4,-31,-6.5,-33,-10.5,-34,-15,-34,-16.5,-32,-18,-33,-20,-29,-20,-30,-23,-34,-25,-32,-25,-31,-26,-32,-30,-33,-29,-23,-6,-24,-13,-22,-13,-20,-13,-18,-9,-16.5,-9.5,-24,-7.5,
14.5,19,15,18.5,16,18.5,17,18,18,17,19,17,16,15.5,20,16,25,31,25.5,31,24,23.5];
const decision_S1=[20,21,23,24,24,23,26,23.5,15.5,18,16,17,16.5,16,16,14.5,16.5,13,16,12,16,12.5,15.5,12,17,13,17.5,14,18,17,18.5,17,19,17.5,30,6];
const decision_S2=[-2.5,30,4,23,20,23,21,25,23.5,25,24,23,17.5,15,17,15,18,16,19,16,20,16,21,15,29,-4.5,29.5,8,30,7.5,31,7,31.5,6,32,5.5,32,4.5,33,4.5,33,3.5,34,3,35,2.5,36,1,37,1,37.5,0.5,38,0.5,38.5,0,39,-0.5,40,-1,40,-2,39.5,-2.5,38.5,-2.5,38,-2,37.5,-3,37,-4,36.5,-4.5,35.5,-5,36,-6,35,-6,34,-6,34.5,-4,33,-5,33,-7,32.5,-8.5,33.5,-9,32,-9.5,31,-9.5,31,-4,32,-5,30,-11,29.5,-12,29,-13,29.5,-13.5,28.5,-15,28,-15.5,27.5,-16,27,-17,26,-18,25.5,-18.5,25,-19,24.5,-19.5,24,-20,23.5,-21.5,23,-21,22,-22.5,21,-24,20.5,-24.5,17,-29,16,-30,16,-31,
38.5,-1,39,-1.5,39,-2,38,-1,37,-2,36.5,-3,36,-4,35.5,-6,35,-5,34,-7,33.5,-6,33,-8,32,-7,32,-8.5,31,-10.5,30.5,-11,29.5,-11,28.5,-14,27.5,-15,26.5,-17.5,25.5,-17.5,24.5,-18.5,23,-20,30,6,31,6.5,32,6,33,4,33.5,3.5,34,4];
const decision_SWS=[24,-20.8,22,-23,21.3,-24.2,20.5,-25,19.5,-26,18.5,-27,17.5,-28.5,16.5,-29.5,15.5,-30,15,-30.5,14,-31.5,13,-32.5,12.5,-33,12,-33.5,11,-34,10.5,-34.5,10,-35,9,-36,8.3,-37,7.5,-38,6,-39,5.5,-39.5,5,-39.8,4.5,-40.5,4,-40.5,3.5,-41.5,3,-42,2.5,-42.5,2.2,-43.2,3,-43.5,2.5,-43.2,
22.5,-23,20,-25.5,19,-26.5,18,-27.5,17,-28.5,16,-29.5,14.5,-31,13.5,-32,11.5,-33.5,9.5,-35.5,8.8,-36.5,8,-37.5,7,-38.5,6.5,-39,4.5,-41,4,-41.5,3.5,-42,2.8,-42.5];
const decision_R=[29,-7.5,17,-26.8,17,50,17.5,49,18,50,18.5,49.5,17.5,48,18,47.5,18.5,47,19,46.5,19,45.5,18.5,45,18.5,44,18,43,19,43,19.5,44,20,42,20,41,19.5,41,19.5,40,21,41,22,40,22.5,39.5,20,39,20,38,20.5,37,21,36,21.5,35,22,37,22,36,21,34,21,33,22.5,34,23,33,24,32,25,33,25.5,33,21.5,32,22,31,21,30,21.5,29,22,28,22.5,29,23,30,23,28,21,27,21.5,26,22,26,21,25,20.5,24,20.5,23,20,22,25,24,26,23.5,25.5,23.3,24.5,23.8,
17.5,49.5,18.2,48.5,18.8,47.5,19,44.5,19,42,20,40,20.8,39,21,37.5,21.5,37,21.5,33,22,32,22.5,32,22.5,31,21.5,30.5,21,28.5,22,29.5,22,27,20.5,26,21.5,27.5];

const panelData=[
  [input_W,input_S1,input_S2,input_SWS,input_R],
  [first_W,first_S1,first_S2,first_SWS,first_R],
  [block1_W,block1_S1,block1_S2,block1_SWS,block1_R],
  [block2_W,block2_S1,block2_S2,block2_SWS,block2_R],
  [lstm_W,lstm_S1,lstm_S2,lstm_SWS,lstm_R],
  [decision_W,decision_S1,decision_S2,decision_SWS,decision_R]
];
const xRanges=[[-100,100,50],[-100,100,50],[-100,50,50],[-50,50,50],[-50,50,50],[-40,40,20]];
const yRanges=[[-100,100,50],[-100,100,50],[-100,100,50],[-20,20,10],[-50,50,50],[-50,50,50]];
const grids=[[62,43,344,271.5],[498,43,351,271.5],[943,43,350,271.5],[62,429,343,269],[498,427,351,271],[943,427,350,271]];
const titleCenters=[[234,6],[673,6],[1116,6],[232,389],[674,387],[1118,387]];

function pairs(a){const r=[];for(let i=0;i<a.length;i+=2)r.push([a[i],a[i+1]]);return r;}
const axisBase={axisLine:{show:true,onZero:false,lineStyle:{color:'#262626',width:1.7}},
  axisTick:{show:true,inside:true,length:5,lineStyle:{color:'#262626',width:1.7}},
  axisLabel:{color:'#333',fontFamily:'Liberation Serif',fontSize:24,hideOverlap:false,showMinLabel:true,showMaxLabel:true},
  splitLine:{show:false}};
const option={animation:false,backgroundColor:'#fff',
  title:titleCenters.map((c,i)=>({text:titles[i],left:c[0],top:c[1],textAlign:'center',padding:0,textStyle:{fontFamily:'Liberation Serif',fontSize:26.5,fontWeight:'normal',color:'#111'}})),
  grid:grids.map(g=>({left:g[0],top:g[1],width:g[2],height:g[3],containLabel:false})),
  xAxis:xRanges.map((r,i)=>Object.assign({},axisBase,{type:'value',gridIndex:i,min:r[0],max:r[1],interval:r[2],axisLabel:Object.assign({},axisBase.axisLabel,{margin:16})})),
  yAxis:yRanges.map((r,i)=>Object.assign({},axisBase,{type:'value',gridIndex:i,min:r[0],max:r[1],interval:r[2],axisLabel:Object.assign({},axisBase.axisLabel,{margin:9,padding:[4,0,0,0]})})),
  legend:{show:true,orient:'vertical',left:312,top:98,padding:[22,7,14,16],itemGap:18,itemWidth:10,itemHeight:10,icon:'circle',selectedMode:false,z:10,
    backgroundColor:'#fff',borderColor:'#444',borderWidth:1,
    textStyle:{fontFamily:'Liberation Sans',fontSize:20.5,color:'#333',lineHeight:20},
    data:[{name:'W',textStyle:{padding:[0,0,0,11]}},{name:'S1',textStyle:{padding:[0,0,0,12]}},{name:'S2',textStyle:{padding:[0,0,0,12]}},{name:'SWS',textStyle:{padding:[0,0,0,14]}},{name:'R',textStyle:{padding:[0,0,0,18]}}]},
  graphic:{elements:[{type:'text',z:-1,silent:true,x:1046,y:676,rotation:Math.PI/4,
    style:{text:'proof',fontFamily:'Liberation Sans',fontSize:195,fill:'#e4e4e4',stroke:'#e4e4e4',lineWidth:2,textAlign:'center',textVerticalAlign:'middle'}}]},
  series:[]};
panelData.forEach((set,p)=>set.forEach((arr,k)=>option.series.push({type:'scatter',name:classNames[k],xAxisIndex:p,yAxisIndex:p,symbol:'circle',symbolSize:5.5,
  itemStyle:{color:classColors[k],opacity:1},clip:false,silent:true,data:pairs(arr)})));
echarts.init(document.getElementById('c')).setOption(option);
</script></body></html>
